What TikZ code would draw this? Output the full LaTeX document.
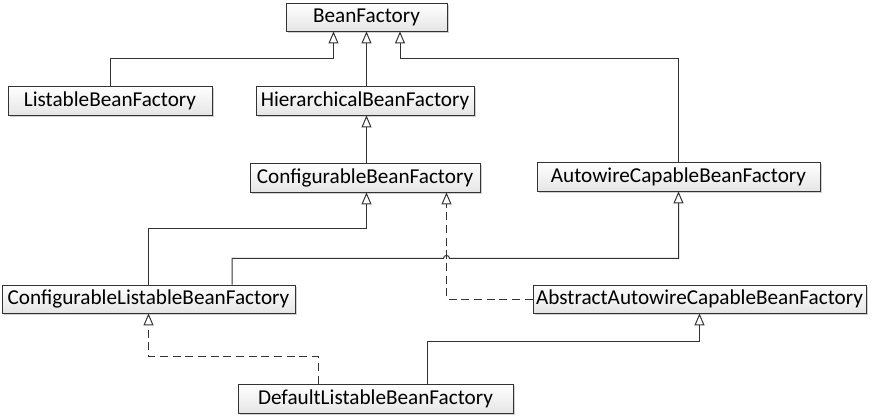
\documentclass[tikz,border=0pt]{standalone}
\usepackage{fontspec}
\setmainfont{Carlito}
\usetikzlibrary{arrows.meta,calc,shadows}

\begin{document}
\begin{tikzpicture}[x=0.75pt,y=-0.75pt,
	>={Triangle[open,width=7.5pt,length=9pt]},
	cls/.style={draw=black!80,line width=0.6pt,rectangle,inner sep=0pt,
		top color=white,bottom color=black!10,
		drop shadow={shadow xshift=1.2pt,shadow yshift=-1.2pt,fill=black,opacity=0.18},
		font=\fontsize{15.9}{18}\selectfont},
	inh/.style={->,draw=black!80,line width=0.75pt},
	real/.style={inh,dash pattern=on 6pt off 3.5pt}]
	
	\useasboundingbox (0,0) rectangle (872,415);
	
	% osztalyok
	\node[cls,minimum width=161*0.75pt,minimum height=28*0.75pt] (bf) at (366.5,17) {BeanFactory};
	\node[cls,minimum width=204*0.75pt,minimum height=29*0.75pt] (lbf) at (110,100.5) {ListableBeanFactory};
	\node[cls,minimum width=218*0.75pt,minimum height=29*0.75pt] (hbf) at (365,100.5) {HierarchicalBeanFactory};
	\node[cls,minimum width=230*0.75pt,minimum height=29*0.75pt] (cbf) at (365,177.5) {ConfigurableBeanFactory};
	\node[cls,minimum width=283*0.75pt,minimum height=29*0.75pt] (acbf) at (678.5,176.5) {AutowireCapableBeanFactory};
	\node[cls,minimum width=293*0.75pt,minimum height=28*0.75pt] (clbf) at (148.5,299) {ConfigurableListableBeanFactory};
	\node[cls,minimum width=333*0.75pt,minimum height=28*0.75pt] (aacbf) at (699.5,299) {AbstractAutowireCapableBeanFactory};
	\node[cls,minimum width=275*0.75pt,minimum height=29*0.75pt] (dlbf) at (375.5,398.5) {DefaultListableBeanFactory};
	
	% keresztezodes
	\coordinate (hop) at ($(bf.south |- cbf.south)+(80,66)$);
	
	% BeanFactory leszarmazottai
	\draw [inh] (lbf.north) |- ($(bf.south)+(-33,27)$) -- ($(bf.south)+(-33,0)$);
	\draw [inh] (bf.south |- hbf.north) -- (bf.south);
	\draw [inh] (acbf.north) |- ($(bf.south)+(33.5,27)$) -- ($(bf.south)+(33.5,0)$);
	\draw [inh] (bf.south |- cbf.north) -- (bf.south |- hbf.south);
	
	% ConfigurableListableBeanFactory
	\draw [inh] (clbf.north) |- ($(bf.south |- cbf.south)+(0,36)$) -- (bf.south |- cbf.south);
	\draw [inh] ($(clbf.north)+(83.5,0)$) |- ($(hop)+(-3,0)$) arc[start angle=180,end angle=0,radius=2.25pt]
		-- ($(acbf.south)+(0,67)$) -- (acbf.south);
	
	% megvalositasok (szaggatott)
	\draw [real] (aacbf.west) -| (hop) -- ($(bf.south |- cbf.south)+(80,0)$);
	\draw [real] ($(dlbf.north)+(-57.5,0)$) |- ($(clbf.south)+(0,43)$) -- (clbf.south);
	
	% DefaultListableBeanFactory
	\draw [inh] ($(dlbf.north)+(52,0)$) |- ($(aacbf.south)+(0,28)$) -- (aacbf.south);
\end{tikzpicture}
\end{document}
